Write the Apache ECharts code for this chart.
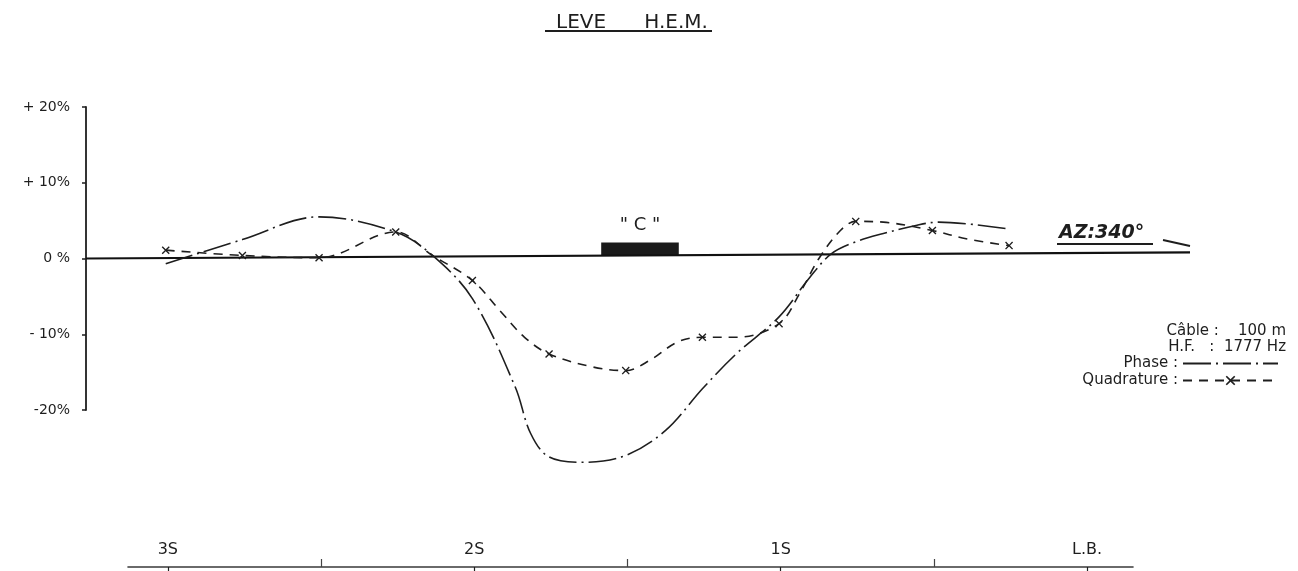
<!DOCTYPE html>
<html><head><meta charset="utf-8">
<script src="https://cdn.jsdelivr.net/npm/echarts@6/dist/echarts.min.js"></script>
<style>html,body{margin:0;padding:0;background:#fff}#c{width:1298px;height:571px}</style>
</head><body><div id="c"></div>
<script>
// ---- data (distance in metres relative to L.B., response in %) ----
const yTickValues = [-20, -10, 0, 10, 20];
const yTickText = ['-20%', '- 10%', '0 %', '+ 10%', '+ 20%'];
const stationPos = [-300, -200, -100, 0];
const stationNames = ['3S', '2S', '1S', 'L.B.'];
const halfStationPos = [-250, -150, -50];

const phaseX = [-300, -275, -250, -225, -213, -200, -186, -181, -175, -164, -150, -137, -125, -114, -100, -90, -83, -75, -66, -55, -48, -25];
const phaseY = [-0.7, 2.5, 5.5, 3.5, 0.4, -5.3, -17.0, -23.1, -26.2, -26.9, -26.0, -22.7, -17.2, -12.6, -7.7, -2.5, 0.6, 2.2, 3.3, 4.4, 4.8, 3.9];

const quadX = [-300, -275, -250, -225, -213, -200, -191, -183, -175, -161, -150, -142, -133, -125, -114, -100, -93, -87, -80, -75, -66, -50, -39, -25];
const quadY = [1.1, 0.4, 0.1, 3.5, 0.4, -2.9, -6.9, -10.4, -12.6, -14.3, -14.8, -13.4, -11.0, -10.4, -10.4, -8.6, -4.4, 0.0, 3.7, 4.9, 4.8, 3.7, 2.6, 1.7];
const quadMarked = [1, 1, 1, 1, 0, 1, 0, 0, 1, 0, 1, 0, 0, 1, 0, 1, 0, 0, 0, 1, 0, 1, 0, 1];

const baselineX = [-326, 34];
const baselineY = [0, 0.8];
const conductorC = { from: -158, to: -132.7, low: 0.4, high: 2.1, label: '" C "' };

const titleText = 'LEVE      H.E.M.';
const infoLines = ['Câble :    100 m', 'H.F.   :  1777 Hz'];
const azimuthText = 'AZ:340°';

// ---- chart ----
const FONT = 'DejaVu Sans';
const INK = '#1e1e1e';
const xMark = 'path://M0,1.2L1.2,0L5,3.8L8.8,0L10,1.2L6.2,5L10,8.8L8.8,10L5,6.2L1.2,10L0,8.8L3.8,5Z';

const phaseData = phaseX.map((x, i) => [x, phaseY[i]]);
const quadData = quadX.map((x, i) => quadMarked[i] ? [x, quadY[i]] : { value: [x, quadY[i]], symbol: 'none' });
const baseData = baselineX.map((x, i) => [x, baselineY[i]]);

const chart = echarts.init(document.getElementById('c'), null, { renderer: 'canvas' });
chart.setOption({
  animation: false,
  backgroundColor: '#fff',
  textStyle: { fontFamily: FONT, color: INK },
  title: {
    text: titleText, left: 551, top: 8,
    textStyle: { fontFamily: FONT, fontSize: 20, fontWeight: 'normal', color: INK }
  },
  legend: {
    orient: 'vertical', right: 14, top: 351, align: 'right',
    itemWidth: 95, itemHeight: 12, itemGap: 2, selectedMode: false,
    data: [
      { name: 'Phase', itemStyle: { opacity: 0 } },
      { name: 'Quadrature' }
    ],
    formatter: n => n + ' :',
    textStyle: { fontFamily: FONT, fontSize: 15, color: INK, width: 112, align: 'right' }
  },
  grid: [
    { left: 86, right: 108, top: 107, bottom: 161 },
    { left: 128, right: 165, top: 530, bottom: 4 }
  ],
  xAxis: [
    { gridIndex: 0, type: 'value', min: -326, max: 34, show: false },
    {
      gridIndex: 1, type: 'value', min: -313, max: 15, position: 'bottom',
      axisLine: { show: true, onZero: false, lineStyle: { color: '#3a3a3a', width: 1.6 } },
      axisTick: { show: true, inside: false, length: 6, customValues: stationPos, lineStyle: { color: INK, width: 1.2 } },
      axisLabel: {
        inside: true, margin: 9, customValues: stationPos,
        formatter: v => stationNames[stationPos.indexOf(v)] || '',
        fontFamily: FONT, fontSize: 16, color: INK
      },
      splitLine: { show: false }
    },
    {
      gridIndex: 1, type: 'value', min: -313, max: 15, position: 'bottom',
      axisLine: { show: false, onZero: false },
      axisTick: { show: true, inside: true, length: 8, customValues: halfStationPos, lineStyle: { color: '#444', width: 1.2 } },
      axisLabel: { show: false },
      splitLine: { show: false }
    }
  ],
  yAxis: [
    {
      gridIndex: 0, type: 'value', min: -20, max: 20, position: 'left',
      axisLine: { show: true, onZero: false, lineStyle: { color: INK, width: 1.8 } },
      axisTick: { show: true, length: 4, customValues: yTickValues, lineStyle: { color: INK, width: 1.5 } },
      axisLabel: {
        margin: 16, customValues: yTickValues,
        formatter: v => yTickText[yTickValues.indexOf(v)] || '',
        fontFamily: FONT, fontSize: 14, color: INK
      },
      splitLine: { show: false }
    },
    { gridIndex: 1, type: 'value', min: 0, max: 1, show: false }
  ],
  series: [
    {
      name: 'Baseline', type: 'line', xAxisIndex: 0, yAxisIndex: 0,
      data: baseData, symbol: 'none', silent: true, clip: false,
      lineStyle: { color: '#111', width: 2.2 },
      markArea: {
        silent: true,
        itemStyle: { color: '#1a1a1a' },
        label: { show: true, position: 'top', distance: 8, formatter: conductorC.label, fontFamily: FONT, fontSize: 18, color: INK },
        data: [[{ xAxis: conductorC.from, yAxis: conductorC.low }, { xAxis: conductorC.to, yAxis: conductorC.high }]]
      },
      z: 1
    },
    {
      name: 'Phase', type: 'line', xAxisIndex: 0, yAxisIndex: 0,
      data: phaseData, smooth: 0.35, symbol: 'none', clip: false,
      lineStyle: { color: INK, width: 1.6, type: [28, 5, 2, 5] },
      itemStyle: { color: INK },
      z: 3
    },
    {
      name: 'Quadrature', type: 'line', xAxisIndex: 0, yAxisIndex: 0,
      data: quadData, smooth: 0.35, symbol: xMark, symbolSize: 8, clip: false,
      lineStyle: { color: INK, width: 1.6, type: [9, 7] },
      itemStyle: { color: INK },
      z: 4
    }
  ],
  graphic: [
    { type: 'line', shape: { x1: 545, y1: 31, x2: 712, y2: 31 }, style: { stroke: INK, lineWidth: 2 } },
    {
      type: 'text', right: 12, top: 323,
      style: { text: infoLines.join('\n'), font: '15px "DejaVu Sans"', fill: INK, textAlign: 'right', lineHeight: 16 }
    },
    {
      type: 'text', x: 1059, y: 224,
      style: { text: azimuthText, font: 'italic bold 19px "DejaVu Sans"', fill: INK }
    },
    { type: 'line', shape: { x1: 1057, y1: 244, x2: 1153, y2: 244 }, style: { stroke: INK, lineWidth: 2 } },
    { type: 'line', shape: { x1: 1163, y1: 240, x2: 1190, y2: 246 }, style: { stroke: INK, lineWidth: 1.8 } }
  ]
});
</script>
</body></html>
